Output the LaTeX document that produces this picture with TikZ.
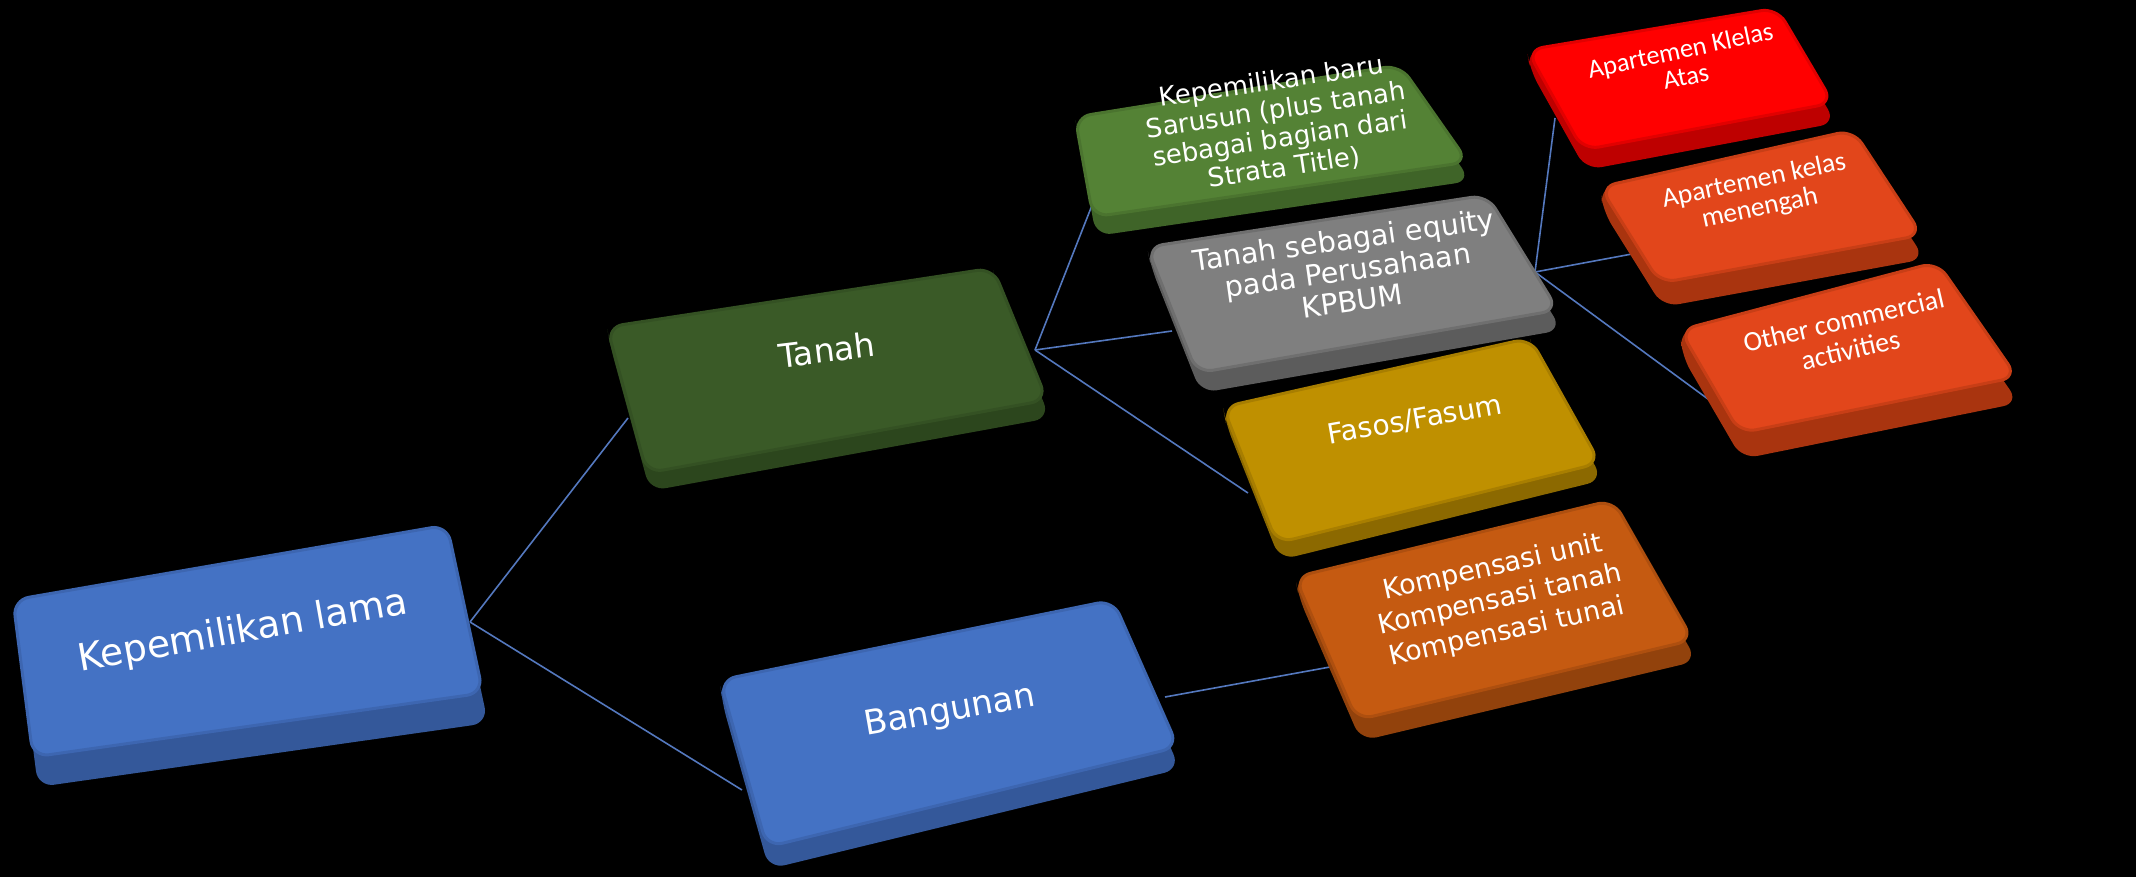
\documentclass[tikz,border=0pt]{standalone}
\usepackage{fontspec}
\setmainfont{DejaVu Sans}
\newfontfamily\calibri{Carlito}
\usepackage{tikz}

\definecolor{linkBlue}{RGB}{84,120,190}
\definecolor{blueTop}{HTML}{4472C4}
\definecolor{blueSide}{HTML}{34589A}
\definecolor{darkGreenTop}{HTML}{3A5A27}
\definecolor{darkGreenSide}{HTML}{2C461D}
\definecolor{greenTop}{HTML}{548235}
\definecolor{greenSide}{HTML}{3F6428}
\definecolor{grayTop}{HTML}{7F7F7F}
\definecolor{graySide}{HTML}{5C5C5C}
\definecolor{goldTop}{HTML}{BF9000}
\definecolor{goldSide}{HTML}{8C6900}
\definecolor{rustTop}{HTML}{C55A11}
\definecolor{rustSide}{HTML}{92420C}
\definecolor{redTop}{HTML}{FF0000}
\definecolor{redSide}{HTML}{BE0000}
\definecolor{flameTop}{HTML}{E2461B}
\definecolor{flameSide}{HTML}{A9340F}

\tikzset{
  link/.style={draw=linkBlue, line width=0.8pt},
  boxtext/.style={text=white, align=center, inner sep=0pt},
}

% slab: top face TL, TR, BR, BL, depth vector, top colour, side colour
\newcommand{\slab}[7]{%
  \fill[#7, rounded corners=8pt] (#1) -- (#2) -- ([shift={(#5)}]#2) -- ([shift={(#5)}]#3)
    -- ([shift={(#5)}]#4) -- ([shift={(#5)}]#1) -- cycle;
  \filldraw[fill=#6, draw=#7!45!#6, line width=1.5pt, rounded corners=8pt] (#1) -- (#2) -- (#3) -- (#4) -- cycle;
}

\begin{document}
\begin{tikzpicture}[x=0.5pt,y=-0.5pt]
  \fill[black] (0,0) rectangle (2136,877);
  \useasboundingbox (0,0) rectangle (2136,877);

  %Connector end points
  \coordinate (lama-out) at (470,622);
  \coordinate (tanah-in) at (628,418);
  \coordinate (bangunan-in) at (742,790);
  \coordinate (tanah-out) at (1035,350);
  \coordinate (baru-in) at (1100,185);
  \coordinate (gray-in) at (1172,331);
  \coordinate (fasos-in) at (1248,493);
  \coordinate (bangunan-out) at (1165,697);
  \coordinate (komp-in) at (1330,667);
  \coordinate (gray-out) at (1535,272);
  \coordinate (atas-in) at (1555,118);
  \coordinate (menengah-in) at (1632,254);
  \coordinate (other-in) at (1712,402);

  %Connectors
  \draw[link] (lama-out) -- (tanah-in);
  \draw[link] (lama-out) -- (bangunan-in);
  \draw[link] (tanah-out) -- (baru-in);
  \draw[link] (tanah-out) -- (gray-in);
  \draw[link] (tanah-out) -- (fasos-in);
  \draw[link] (bangunan-out) -- (komp-in);
  \draw[link] (gray-out) -- (atas-in);
  \draw[link] (gray-out) -- (menengah-in);
  \draw[link] (gray-out) -- (other-in);

  %Shape: Kepemilikan lama
  \slab{13,600}{447,525}{483,693}{33,757}{5,30}{blueTop}{blueSide}
  %Shape: Tanah
  \slab{607,327}{993,268}{1047,400}{647,473}{3,18}{darkGreenTop}{darkGreenSide}
  %Shape: Bangunan
  \slab{720,680}{1113,600}{1178,747}{767,847}{2,22}{blueTop}{blueSide}
  %Shape: Kepemilikan baru
  \slab{1075,117}{1400,65}{1468,162}{1093,217}{3,19}{greenTop}{greenSide}
  %Shape: Tanah sebagai equity
  \slab{1147,247}{1487,195}{1558,310}{1197,373}{4,20}{grayTop}{graySide}
  %Shape: Fasos/Fasum
  \slab{1223,407}{1530,338}{1600,463}{1277,543}{3,17}{goldTop}{goldSide}
  %Shape: Kompensasi
  \slab{1295,577}{1613,500}{1693,640}{1357,720}{4,21}{rustTop}{rustSide}
  %Shape: Apartemen Klelas Atas
  \slab{1527,50}{1777,8}{1833,103}{1583,150}{3,20}{redTop}{redSide}
  %Shape: Apartemen kelas menengah
  \slab{1600,187}{1853,130}{1922,235}{1660,283}{3,24}{flameTop}{flameSide}
  %Shape: Other commercial activities
  \slab{1680,330}{1937,262}{2017,377}{1740,433}{2,26}{flameTop}{flameSide}

  % Text Node
  \node[boxtext, rotate=10, font=\fontsize{18.8}{21}\selectfont] (lama) at (243,632) {Kepemilikan lama};
  % Text Node
  \node[boxtext, rotate=7, font=\fontsize{16.5}{19}\selectfont] (tanah) at (827,350) {Tanah};
  % Text Node
  \node[boxtext, rotate=10, font=\fontsize{17}{20}\selectfont] (bangunan) at (950,712) {Bangunan};
  % Text Node
  \node[boxtext, rotate=8.5, font=\fontsize{13}{14.5}\selectfont] (baru) at (1278,125) {Kepemilikan baru\\Sarusun (plus tanah\\sebagai bagian dari\\Strata Title)};
  % Text Node
  \node[boxtext, rotate=8, font=\fontsize{14.3}{15.5}\selectfont] (equity) at (1348,270) {Tanah sebagai equity\\pada Perusahaan\\KPBUM};
  % Text Node
  \node[boxtext, rotate=10, font=\fontsize{14}{16}\selectfont] (fasos) at (1415,420) {Fasos/Fasum};
  % Text Node
  \node[boxtext, rotate=12.5, font=\fontsize{13.5}{16.5}\selectfont] (komp) at (1500,600) {Kompensasi unit\\Kompensasi tanah\\Kompensasi tunai};
  % Text Node
  \node[boxtext, rotate=12, font=\calibri\fontsize{13.2}{13.5}\selectfont] (atas) at (1683,63) {Apartemen Klelas\\Atas};
  % Text Node
  \node[boxtext, rotate=12, font=\calibri\fontsize{13.7}{14}\selectfont] (menengah) at (1757,195) {Apartemen kelas\\menengah};
  % Text Node
  \node[boxtext, rotate=13, font=\calibri\fontsize{14}{15}\selectfont] (other) at (1847,335) {Other commercial\\activities};
\end{tikzpicture}
\end{document}
